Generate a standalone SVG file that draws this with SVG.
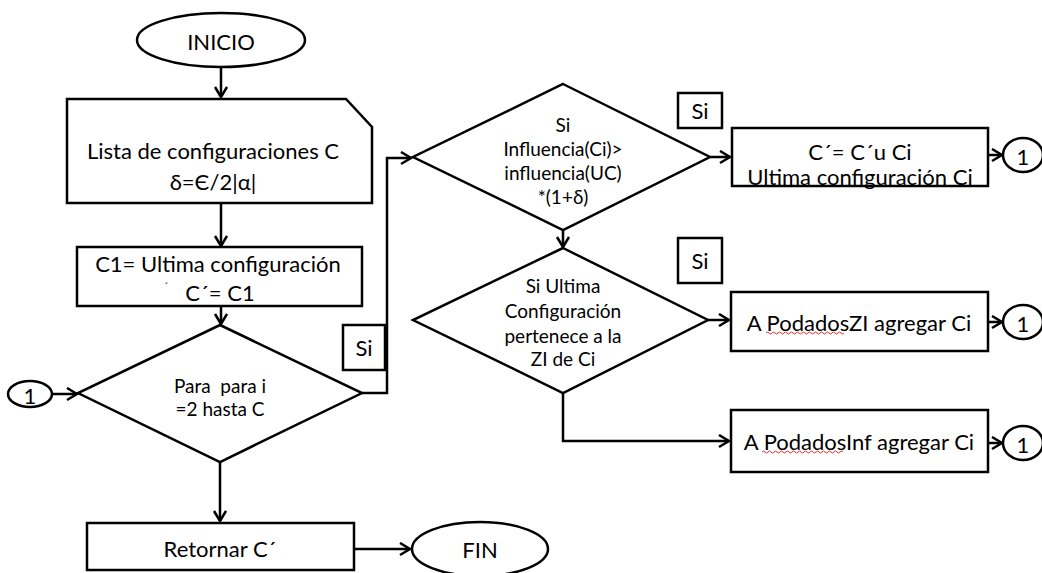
<svg xmlns="http://www.w3.org/2000/svg" width="1042" height="573" viewBox="0 0 1042 573">
  <style>
    .shape { fill: #ffffff; stroke: #000000; stroke-width: 2.5; }
    .line { fill: none; stroke: #000000; stroke-width: 2.5; }
    .t { font-family: Lato, "Open Sans", "Liberation Sans", sans-serif; fill: #000000; text-anchor: middle; dominant-baseline: central; white-space: pre; }
    .big { font-size: 22px; }
    .small { font-size: 19px; }
    .mark { font-size: 12px; }
    .squiggle { fill: none; stroke: #e03030; stroke-width: 1; }
  </style>
  <defs>
    <marker id="arrow" markerUnits="userSpaceOnUse" markerWidth="14" markerHeight="16" refX="11" refY="7" orient="auto">
      <path d="M1,1 L11,7 L1,13" fill="none" stroke="#000000" stroke-width="2.5"/>
    </marker>
  </defs>

  <!-- connectors -->
  <g id="connectors">
    <line class="line" x1="221" y1="67" x2="221" y2="97" marker-end="url(#arrow)"/>
    <line class="line" x1="221" y1="203" x2="221" y2="246" marker-end="url(#arrow)"/>
    <line class="line" x1="221" y1="306" x2="221" y2="324" marker-end="url(#arrow)"/>
    <line class="line" x1="52" y1="394" x2="77" y2="394" marker-end="url(#arrow)"/>
    <line class="line" x1="220" y1="462" x2="220" y2="521" marker-end="url(#arrow)"/>
    <line class="line" x1="354" y1="549" x2="410" y2="549" marker-end="url(#arrow)"/>
    <polyline class="line" points="362,393 387,393 387,158 411,158" marker-end="url(#arrow)"/>
    <line class="line" x1="563" y1="230" x2="563" y2="247" marker-end="url(#arrow)"/>
    <line class="line" x1="710" y1="157" x2="730" y2="157" marker-end="url(#arrow)"/>
    <line class="line" x1="708" y1="320" x2="729" y2="320" marker-end="url(#arrow)"/>
    <polyline class="line" points="563,393 563,441 729,441" marker-end="url(#arrow)"/>
    <line class="line" x1="988" y1="155" x2="1002" y2="155" marker-end="url(#arrow)"/>
    <line class="line" x1="988" y1="322" x2="1002" y2="322" marker-end="url(#arrow)"/>
    <line class="line" x1="988" y1="443" x2="1002" y2="443" marker-end="url(#arrow)"/>
  </g>

  <!-- start -->
  <g id="inicio">
    <ellipse class="shape" cx="221" cy="40" rx="84" ry="27"/>
    <text class="t big" x="221" y="41">INICIO</text>
  </g>

  <!-- input list (card shape) -->
  <g id="lista">
    <path class="shape" d="M67,99 L346,99 L372,127 L372,203 L67,203 Z"/>
    <text class="t big" x="213" y="150">Lista de configuraciones C</text>
    <text class="t big" x="213" y="181">δ=Є/2|α|</text>
  </g>

  <g id="init">
    <rect class="shape" x="77" y="247" width="285" height="59"/>
    <text class="t big" x="218" y="263">C1= Ultima configuración</text>
    <text class="t big" x="220" y="292">C´= C1</text>
    <text class="t mark" x="166" y="286">´</text>
  </g>

  <g id="bucle">
    <polygon class="shape" points="220,325 362,393 220,462 78,393"/>
    <text class="t small" x="220" y="385">Para  para i</text>
    <text class="t small" x="220" y="408">=2 hasta C</text>
  </g>

  <g id="conector-entrada">
    <ellipse class="shape" cx="30" cy="394" rx="22" ry="13"/>
    <text class="t big" x="30" y="395">1</text>
  </g>

  <g id="si-bucle">
    <rect class="shape" x="343" y="325" width="42" height="45"/>
    <text class="t big" x="364" y="347">Si</text>
  </g>

  <g id="retornar">
    <rect class="shape" x="87" y="523" width="267" height="47"/>
    <text class="t big" x="220" y="548">Retornar C´</text>
  </g>

  <g id="fin">
    <ellipse class="shape" cx="480" cy="549" rx="68" ry="27"/>
    <text class="t big" x="480" y="549">FIN</text>
  </g>

  <g id="decision-influencia">
    <polygon class="shape" points="563,84 710,157 563,230 413,157"/>
    <text class="t small" x="563" y="124">Si</text>
    <text class="t small" x="563" y="148">Influencia(Ci)&gt;</text>
    <text class="t small" x="563" y="172">influencia(UC)</text>
    <text class="t small" x="563" y="196">*(1+δ)</text>
  </g>

  <g id="si-influencia">
    <rect class="shape" x="678" y="93" width="44" height="35"/>
    <text class="t big" x="700" y="110">Si</text>
  </g>

  <g id="decision-zi">
    <polygon class="shape" points="563,248 708,320 563,393 413,320"/>
    <text class="t small" x="563" y="285">Si Ultima</text>
    <text class="t small" x="563" y="310">Configuración</text>
    <text class="t small" x="563" y="335">pertenece a la</text>
    <text class="t small" x="563" y="358">ZI de Ci</text>
  </g>

  <g id="si-zi">
    <rect class="shape" x="678" y="238" width="44" height="45"/>
    <text class="t big" x="700" y="260">Si</text>
  </g>

  <g id="actualizar">
    <rect class="shape" x="732" y="128" width="256" height="58"/>
    <text class="t big" x="860" y="151">C´= C´u Ci</text>
    <text class="t big" x="860" y="176">Ultima configuración Ci</text>
  </g>

  <g id="podados-zi">
    <rect class="shape" x="731" y="292" width="257" height="59"/>
    <text class="t big" x="859" y="322">A PodadosZI agregar Ci</text>
    <path class="squiggle" d="M766,333 q1.5,-2 3,0 t3,0 t3,0 t3,0 t3,0 t3,0 t3,0 t3,0 t3,0 t3,0 t3,0 t3,0 t3,0 t3,0 t3,0 t3,0 t3,0 t3,0 t3,0 t3,0 t3,0 t3,0 t3,0 t3,0 t3,0 t3,0"/>
  </g>

  <g id="podados-inf">
    <rect class="shape" x="731" y="410" width="257" height="62"/>
    <text class="t big" x="859" y="441">A PodadosInf agregar Ci</text>
    <path class="squiggle" d="M762,452 q1.5,-2 3,0 t3,0 t3,0 t3,0 t3,0 t3,0 t3,0 t3,0 t3,0 t3,0 t3,0 t3,0 t3,0 t3,0 t3,0 t3,0 t3,0 t3,0 t3,0 t3,0 t3,0 t3,0 t3,0 t3,0 t3,0 t3,0 t3,0"/>
  </g>

  <g id="conector-1a">
    <ellipse class="shape" cx="1023" cy="155" rx="20" ry="17"/>
    <text class="t big" x="1023" y="156">1</text>
  </g>
  <g id="conector-1b">
    <ellipse class="shape" cx="1023" cy="322" rx="20" ry="17"/>
    <text class="t big" x="1023" y="323">1</text>
  </g>
  <g id="conector-1c">
    <ellipse class="shape" cx="1023" cy="443" rx="20" ry="17"/>
    <text class="t big" x="1023" y="444">1</text>
  </g>
</svg>
